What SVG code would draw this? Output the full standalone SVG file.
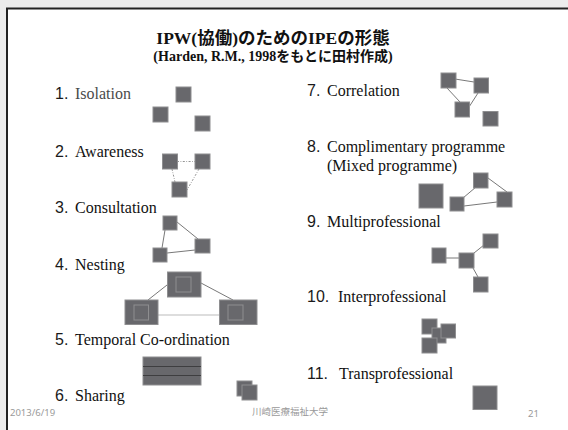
<svg xmlns="http://www.w3.org/2000/svg" width="568" height="430" viewBox="0 0 568 430">
<style>
.sq{fill:#68686c;stroke:#8e8e90;stroke-width:1}
.ln{stroke:#555;stroke-width:0.8;fill:none}
.dot{stroke:#888;stroke-width:0.9;fill:none;stroke-dasharray:2 1.5 0.8 1.5}
.num{font-family:"Liberation Sans","DejaVu Sans",sans-serif;font-size:16px;fill:#1a1a1a}
.lbl{font-family:"Liberation Serif","Times New Roman",serif;font-size:16px;fill:#111}
.gray{fill:#4a4a4a}
.ft{font-family:"Noto Sans","Noto Sans CJK JP",sans-serif;font-size:9.5px;fill:#9a9a9a}
.ttl{font-family:"Liberation Serif","Noto Sans CJK JP",serif;font-weight:bold;fill:#111;text-anchor:middle}
</style>
<rect x="0" y="0" width="568" height="430" fill="#ececec"/>
<rect x="7" y="8.5" width="580" height="440" fill="#fff" stroke="#222" stroke-width="2"/>

<g id="title">
<text class="ttl" x="273" y="44" font-size="17.5">IPW(協働)のためのIPEの形態</text>
<text class="ttl" x="273" y="61" font-size="14">(Harden, R.M.,  1998をもとに田村作成)</text>
</g>

<g id="labels">
<text class="num" x="55" y="99">1.</text><text class="lbl gray" x="75" y="99">Isolation</text>
<text class="num" x="55" y="157">2.</text><text class="lbl" x="75" y="157">Awareness</text>
<text class="num" x="55" y="213">3.</text><text class="lbl" x="75" y="213">Consultation</text>
<text class="num" x="55" y="270">4.</text><text class="lbl" x="75" y="270">Nesting</text>
<text class="num" x="55" y="345">5.</text><text class="lbl" x="75" y="345">Temporal Co-ordination</text>
<text class="num" x="55" y="401">6.</text><text class="lbl" x="75" y="401">Sharing</text>
<text class="num" x="307" y="96">7.</text><text class="lbl" x="327" y="96">Correlation</text>
<text class="num" x="307" y="152">8.</text><text class="lbl" x="327" y="152">Complimentary programme</text>
<text class="lbl" x="327" y="171">(Mixed programme)</text>
<text class="num" x="307" y="227">9.</text><text class="lbl" x="327" y="227">Multiprofessional</text>
<text class="num" x="307" y="302">10.</text><text class="lbl" x="338" y="302">Interprofessional</text>
<text class="num" x="307" y="379">11.</text><text class="lbl" x="339" y="379">Transprofessional</text>
</g>

<g id="connectors">
<line class="dot" x1="177" y1="161.5" x2="195" y2="161.5"/>
<line class="dot" x1="172" y1="169" x2="175" y2="182"/>
<line class="dot" x1="199" y1="169" x2="187" y2="190"/>
<line class="ln" x1="177" y1="222" x2="198" y2="239"/>
<line class="ln" x1="165" y1="230" x2="162" y2="248"/>
<line class="ln" x1="167" y1="253" x2="195" y2="250"/>
<line class="ln" x1="167" y1="285" x2="148" y2="300"/>
<line class="ln" x1="201" y1="283" x2="233" y2="300"/>
<line x1="158" y1="315" x2="220" y2="315" stroke="#bbb" stroke-width="1"/>
<line class="ln" x1="455" y1="79" x2="474" y2="82"/>
<line class="ln" x1="447" y1="88" x2="460" y2="102"/>
<line class="ln" x1="478" y1="93" x2="469" y2="107"/>
<line class="ln" x1="463" y1="198" x2="476" y2="187"/>
<line class="ln" x1="488" y1="178" x2="507" y2="192"/>
<line class="ln" x1="464" y1="206" x2="497" y2="202"/>
<line class="ln" x1="446" y1="258" x2="459" y2="258"/>
<line class="ln" x1="474" y1="253" x2="484" y2="245"/>
<line class="ln" x1="473" y1="268" x2="478" y2="277"/>
</g>

<g id="isolation">
<rect class="sq" x="176" y="87" width="15" height="15"/>
<rect class="sq" x="153" y="107" width="15" height="15"/>
<rect class="sq" x="195" y="116" width="15" height="15"/>
</g>
<g id="awareness">
<rect class="sq" x="162.5" y="154" width="15" height="15"/>
<rect class="sq" x="195" y="154" width="15" height="15"/>
<rect class="sq" x="172" y="182" width="15" height="15"/>
</g>
<g id="consultation">
<rect class="sq" x="163" y="216" width="14" height="14"/>
<rect class="sq" x="195" y="239" width="15" height="14"/>
<rect class="sq" x="153" y="248" width="14" height="14"/>
</g>
<g id="nesting">
<rect class="sq" x="167.5" y="272" width="33.5" height="25"/>
<rect class="sq" x="176" y="277" width="15" height="15"/>
<rect class="sq" x="125" y="300" width="33" height="24.5"/>
<rect class="sq" x="134" y="305" width="14.5" height="15"/>
<rect class="sq" x="219.5" y="300" width="37.5" height="24.5"/>
<rect class="sq" x="228" y="305" width="15" height="15"/>
</g>
<g id="temporal">
<rect class="sq" x="143" y="357" width="58" height="28"/>
<line x1="143" y1="366.5" x2="201" y2="366.5" stroke="#3e3e40" stroke-width="1"/>
<line x1="143" y1="375.5" x2="201" y2="375.5" stroke="#3e3e40" stroke-width="1"/>
</g>
<g id="sharing">
<rect class="sq" x="237" y="381" width="15" height="15"/>
<rect class="sq" x="242" y="385" width="15" height="15"/>
</g>
<g id="correlation">
<rect class="sq" x="441" y="73" width="15" height="15"/>
<rect class="sq" x="474" y="78" width="14.5" height="15"/>
<rect class="sq" x="455" y="102" width="14.5" height="15"/>
<rect class="sq" x="483" y="111.5" width="15" height="14.5"/>
</g>
<g id="complimentary">
<rect class="sq" x="419" y="184" width="24" height="24"/>
<rect class="sq" x="450" y="197" width="14" height="14"/>
<rect class="sq" x="473.5" y="173" width="14.5" height="15"/>
<rect class="sq" x="497" y="192" width="15" height="15"/>
</g>
<g id="multiprofessional">
<rect class="sq" x="432" y="248" width="14" height="15"/>
<rect class="sq" x="459" y="253" width="15" height="15"/>
<rect class="sq" x="483" y="234" width="15" height="14"/>
<rect class="sq" x="473.5" y="277" width="14.5" height="15"/>
</g>
<g id="interprofessional">
<rect class="sq" x="422" y="319" width="15" height="15"/>
<rect class="sq" x="432" y="328" width="14" height="15"/>
<rect class="sq" x="441" y="324" width="14.5" height="14"/>
<rect class="sq" x="422" y="338" width="15" height="15"/>
</g>
<g id="transprofessional">
<rect class="sq" x="473" y="386" width="24" height="23.5"/>
</g>

<g id="footer">
<text class="ft" x="10" y="416">2013/6/19</text>
<text class="ft" x="290" y="415" text-anchor="middle" style="font-family:'Noto Sans CJK JP',sans-serif">川崎医療福祉大学</text>
<text class="ft" x="528" y="417">21</text>
</g>
</svg>
